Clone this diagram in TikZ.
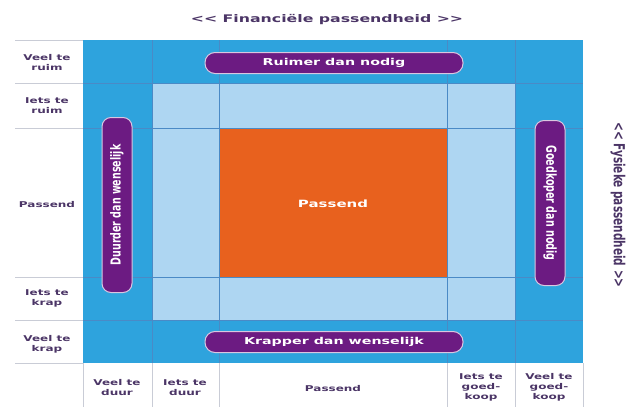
\documentclass[tikz,border=0pt]{standalone}
\usepackage{fontspec}
\setmainfont{DejaVu Sans}
\definecolor{outerblue}{HTML}{2EA3DD}
\definecolor{innerblue}{HTML}{AED6F2}
\definecolor{orangec}{HTML}{E8611E}
\definecolor{pillc}{HTML}{6C1B82}
\definecolor{labc}{HTML}{4B3566}
\definecolor{gridc}{HTML}{4A8AC6}
\definecolor{sepc}{HTML}{C9CCD6}
\newcommand\hstr[1]{\scalebox{1.5}[1]{\begin{tabular}{@{}c@{}}#1\end{tabular}}}
\newcommand\vstr[1]{\scalebox{1}[1.45]{#1}}
\begin{document}
\begin{tikzpicture}[x=1pt,y=-1pt,
  lab/.style={font=\bfseries\fontsize{8}{10}\selectfont, text=labc, inner sep=0pt},
  pill/.style={draw=white!75!pillc, line width=1pt, fill=pillc, rounded corners=10pt, text=white, font=\bfseries\fontsize{9.5}{10}\selectfont, inner sep=0pt},
  axis/.style={font=\bfseries\fontsize{10.5}{12}\selectfont, text=labc, inner sep=0pt},
  gridl/.style={draw=gridc, line width=0.5pt},
  sepl/.style={draw=sepc, line width=0.6pt}]
\useasboundingbox (0,0) rectangle (630,407);
\fill[white] (0,0) rectangle (630,407);
% fills
\fill[outerblue] (83,40) rectangle (583,363);
\fill[innerblue] (152,83) rectangle (515,320);
\fill[orangec] (219,128) rectangle (447,277);
% grid lines
\foreach \x in {152,219,447,515} \draw[gridl] (\x,40) -- (\x,363);
\foreach \y in {83,128,277,320} \draw[gridl] (83,\y) -- (583,\y);
% separators in label column and row
\foreach \y in {40,83,128,277,320,363} \draw[sepl] (15,\y) -- (83,\y);
\foreach \x in {83,152,219,447,515,583} \draw[sepl] (\x,363) -- (\x,407);
% titles
\node[axis] (fin) at (327,20) {\hstr{{<}{<} Financiële passendheid {>}{>}}};
\node[axis, rotate=-90] (fys) at (618,205) {\vstr{{<}{<} Fysieke passendheid {>}{>}}};
% row labels
\node[lab] (r1) at (47,63) {\hstr{Veel te\\ruim}};
\node[lab] (r2) at (47,106) {\hstr{Iets te\\ruim}};
\node[lab] (r3) at (47,205) {\hstr{Passend}};
\node[lab] (r4) at (47,298) {\hstr{Iets te\\krap}};
\node[lab] (r5) at (47,344) {\hstr{Veel te\\krap}};
% column labels
\node[lab] (c1) at (117,388) {\hstr{Veel te\\duur}};
\node[lab] (c2) at (185,388) {\hstr{Iets te\\duur}};
\node[lab] (c3) at (333,389) {\hstr{Passend}};
\node[lab] (c4) at (481,387) {\hstr{Iets te\\goed-\\koop}};
\node[lab] (c5) at (549,387) {\hstr{Veel te\\goed-\\koop}};
% centre
\node[font=\bfseries\fontsize{10}{10}\selectfont, text=white, inner sep=0pt] (mid) at (333,205) {\hstr{Passend}};
% pills
\node[pill, minimum width=258pt, minimum height=21pt] (top) at (334,63) {\hstr{Ruimer dan nodig}};
\node[pill, minimum width=258pt, minimum height=21pt] (bot) at (334,342) {\hstr{Krapper dan wenselijk}};
\node[pill, rotate=90, minimum width=175pt, minimum height=30pt, rounded corners=9pt] (left) at (117,205) {\vstr{Duurder dan wenselijk}};
\node[pill, rotate=-90, minimum width=165pt, minimum height=30pt, rounded corners=9pt] (right) at (550,203) {\vstr{Goedkoper dan nodig}};
\end{tikzpicture}
\end{document}
